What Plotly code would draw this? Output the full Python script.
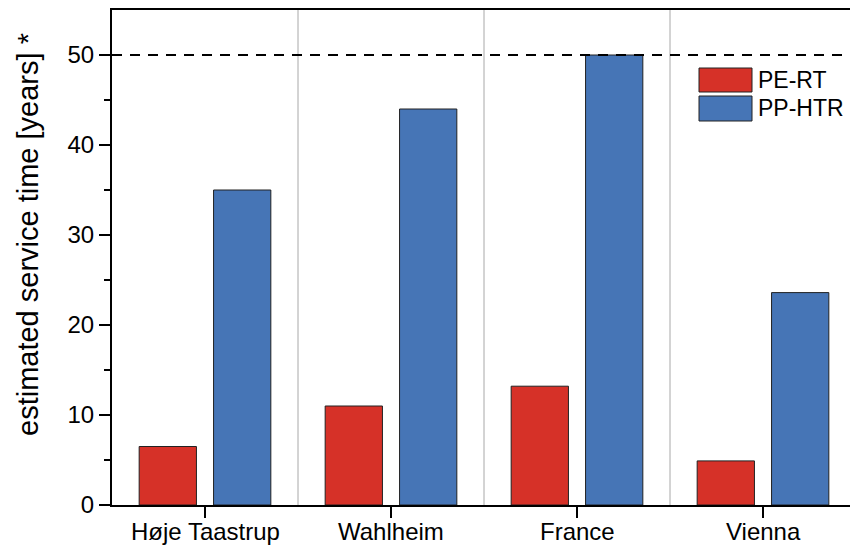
import plotly.graph_objects as go

# Service-time estimates per site (years)
sites = ["Høje Taastrup", "Wahlheim", "France", "Vienna"]
pe_rt = [6.5, 11.0, 13.2, 4.9]
pp_htr = [35.0, 44.0, 50.0, 23.6]
series_names = ["PE-RT", "PP-HTR"]
series_colors = ["#D63128", "#4675B6"]
reference_life = 50
y_ticks = [0, 10, 20, 30, 40, 50]

W, H = 850, 550
M_L, M_R, M_T, M_B = 112, 0, 10, 45
PW, PH = W - M_L - M_R, H - M_T - M_B
unit_px = 186.0

def px_x(p):
    return (p - M_L) / PW

def px_y(p):
    return (H - M_B - p) / PH

xpos = list(range(len(sites)))
fig = go.Figure()
for name, vals, col in zip(series_names, [pe_rt, pp_htr], series_colors):
    fig.add_trace(go.Bar(
        x=xpos, y=vals, name=name,
        marker=dict(color=col, line=dict(color="#222222", width=1)),
        showlegend=False,
    ))

# category separators
for b in [0.5, 1.5, 2.5]:
    fig.add_shape(type="line", xref="x", yref="paper", x0=b, x1=b, y0=0, y1=1,
                  line=dict(color="#a8a8a8", width=1), layer="below")

# reference service life
fig.add_shape(type="line", xref="paper", yref="y", x0=0, x1=1,
              y0=reference_life, y1=reference_life,
              line=dict(color="black", width=2, dash="10px,8px"))

# category labels placed close under the axis
for xi, label in zip(xpos, sites):
    fig.add_annotation(xref="x", yref="paper", x=xi, y=0, yanchor="top",
                       yshift=-11, text=label, showarrow=False,
                       font=dict(size=24, color="black"))

# legend drawn as boxes with labels
leg_rows = [(68, 92), (96, 121)]
for (top, bot), name, col in zip(leg_rows, series_names, series_colors):
    fig.add_shape(type="rect", xref="paper", yref="paper",
                  x0=px_x(699), x1=px_x(752), y0=px_y(bot), y1=px_y(top),
                  fillcolor=col, line=dict(color="#222222", width=1))
    fig.add_annotation(xref="paper", yref="paper", x=px_x(756), y=px_y((top + bot) / 2),
                       text=name, showarrow=False, xanchor="left", yanchor="middle",
                       font=dict(size=23, color="black"))

fig.add_annotation(xref="paper", yref="paper", x=px_x(28), y=px_y(235),
                   text="estimated service time [years] *", textangle=-90,
                   showarrow=False, xanchor="center", yanchor="middle",
                   font=dict(size=29, color="black"))

x_max = -0.5 + PW / unit_px
fig.update_layout(
    width=W, height=H,
    margin=dict(l=M_L, r=M_R, t=M_T, b=M_B, autoexpand=False),
    paper_bgcolor="white", plot_bgcolor="white",
    font=dict(family="Liberation Sans, Arial, sans-serif", color="black"),
    barmode="group", bargap=0.2, bargroupgap=0.23,
    xaxis=dict(range=[-0.5, x_max], tickmode="array", tickvals=xpos,
               showticklabels=False,
               showgrid=False, zeroline=False, showline=True, linecolor="black",
               linewidth=2, mirror=True, ticks="outside", ticklen=11, tickwidth=2,
               tickcolor="black"),
    yaxis=dict(range=[0, 55], tickvals=y_ticks, showgrid=False, zeroline=False,
               showline=True, linecolor="black", linewidth=2, mirror=False,
               ticks="outside", ticklen=11, tickwidth=2, tickcolor="black",
               tickfont=dict(size=24),
               minor=dict(tickvals=[5, 15, 25, 35, 45], ticks="outside", ticklen=6,
                          tickwidth=2, tickcolor="black")),
)

fig.write_html("out.html")
